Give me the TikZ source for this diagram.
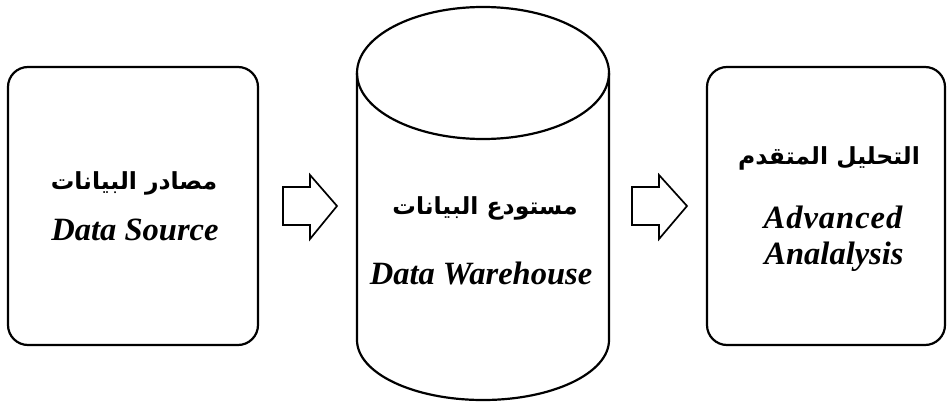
\documentclass[tikz,border=0pt]{standalone}
\usepackage{fontspec}
\setmainfont{Liberation Serif}
\newfontfamily\arabicfont[Script=Arabic]{DejaVu Sans}
\TeXXeTstate=1
\begin{document}
\begin{tikzpicture}[x=1pt,y=1pt,
  outline/.style={draw=black,line width=2.2pt},
  stagebox/.style={outline,rounded corners=20pt},
  latin/.style={font=\fontsize{32.5}{35}\selectfont\bfseries\itshape},
  arab/.style={font=\fontsize{23.5}{27}\selectfont\arabicfont\bfseries},
  blockarrow/.style={outline,line width=1.7pt,line join=miter}]
\useasboundingbox (0,0) rectangle (949,408);

% source box
\draw[stagebox] (8,63) rectangle (258,341);
\node[arab] (srcar) at (134,225) {\beginR مصادر البيانات\endR};
\node[latin] (srcen) at (135,178) {Data Source};

% warehouse cylinder
\draw[outline] (483,335) ellipse [x radius=126, y radius=66];
\draw[outline] (357,335) -- (357,68) arc[start angle=180, end angle=360, x radius=126, y radius=60] -- (609,335);
\node[arab] (dwar) at (485,200) {\beginR مستودع البيانات\endR};
\node[latin] (dwen) at (481,135) {Data Warehouse};

% analysis box
\draw[stagebox] (707,63) rectangle (945,341);
\node[arab] (anar) at (829,250) {\beginR التحليل المتقدم\endR};
\node[latin] (anen1) at (833,191) {A\kern1pt d\kern1pt v\kern1pt a\kern1pt n\kern1pt c\kern1pt e\kern1pt d};
\node[latin] (anen2) at (834,151) {Analalysis};

% block arrows between the stages
\coordinate (a1) at (283,202);
\draw[blockarrow] (a1) ++(0,19) -- ++(27,0) -- ++(0,12) -- (337,202) -- (310,169) -- (310,183) -- (283,183) -- cycle;
\coordinate (a2) at (632,202);
\draw[blockarrow] (a2) ++(0,19) -- ++(27,0) -- ++(0,12) -- (687,202) -- (659,169) -- (659,183) -- (632,183) -- cycle;
\end{tikzpicture}
\end{document}
